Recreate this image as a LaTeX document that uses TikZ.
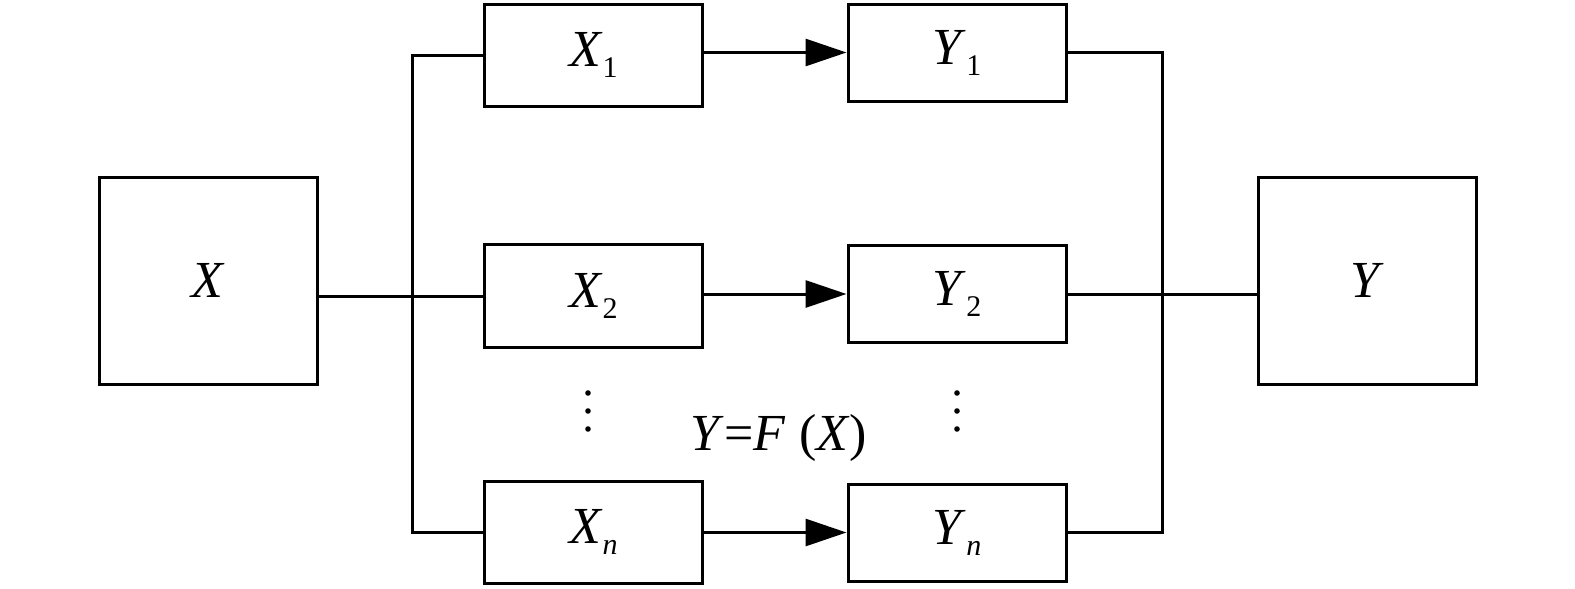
\documentclass[tikz,border=0pt]{standalone}
\usepackage{fontspec}
\setmainfont{Liberation Serif}
\usetikzlibrary{arrows.meta}

\newcommand{\blocksub}[2]{\textit{#1}\raisebox{-11pt}{\fontsize{30}{30}\selectfont #2}}

\tikzset{
    blk/.style={draw,line width=3pt,minimum width=218pt,inner sep=0pt,font=\fontsize{52}{52}\selectfont},
    arr/.style={-{Triangle[length=41pt,width=27pt]}}
}

\begin{document}
\begin{tikzpicture}[x=1pt,y=-1pt,line width=3pt]
    \useasboundingbox (0,0) rectangle (1575,589);
    		\draw (208,280.5) 	node (X) [blk,minimum height=207pt] {\textit{X}};
    		\draw (593.5,55) 	node (X1) [blk,minimum height=102pt] {\blocksub{X}{1}};
    		\draw (593.5,296) 	node (X2) [blk,minimum height=103pt] {\blocksub{X}{2}};
    		\draw (593.5,532) 	node (Xn) [blk,minimum height=102pt] {\blocksub{X}{\textit{n}}};
    		\draw (957,52.5) 	node (Y1) [blk,minimum height=97pt] {\blocksub{Y}{1}};
    		\draw (957,294) 	node (Y2) [blk,minimum height=97pt] {\blocksub{Y}{2}};
    		\draw (957,532.5) 	node (Yn) [blk,minimum height=97pt] {\blocksub{Y}{\textit{n}}};
    		\draw (1367.5,280.5) 	node (Y) [blk,minimum height=207pt] {\textit{Y}};
    		\draw (779,438) 	node (F) [font=\fontsize{52}{52}\selectfont] {\textit{Y}=\textit{F} (\textit{X})};
    		\coordinate (lbus) at (412,294);
    		\coordinate (rbus) at (1162,294);
    		\draw (X.east |- X2.west) -- (X2.west);
    		\draw (X1.west) -| (lbus) |- (Xn.west);
    		\draw[arr] (X1.east |- Y1.west) -- (Y1.west);
    		\draw[arr] (X2.east |- Y2.west) -- (Y2.west);
    		\draw[arr] (Xn.east |- Yn.west) -- (Yn.west);
    		\draw (Y1.east) -| (rbus) |- (Yn.east);
    		\draw (Y2.east) -- (Y.west |- Y2.east);
    		\foreach \y in {393,411,429} {
    		    \fill (588,\y) circle (2.8pt);
    		    \fill (957,\y) circle (2.8pt);
    		}
	 \end{tikzpicture}
\end{document}
